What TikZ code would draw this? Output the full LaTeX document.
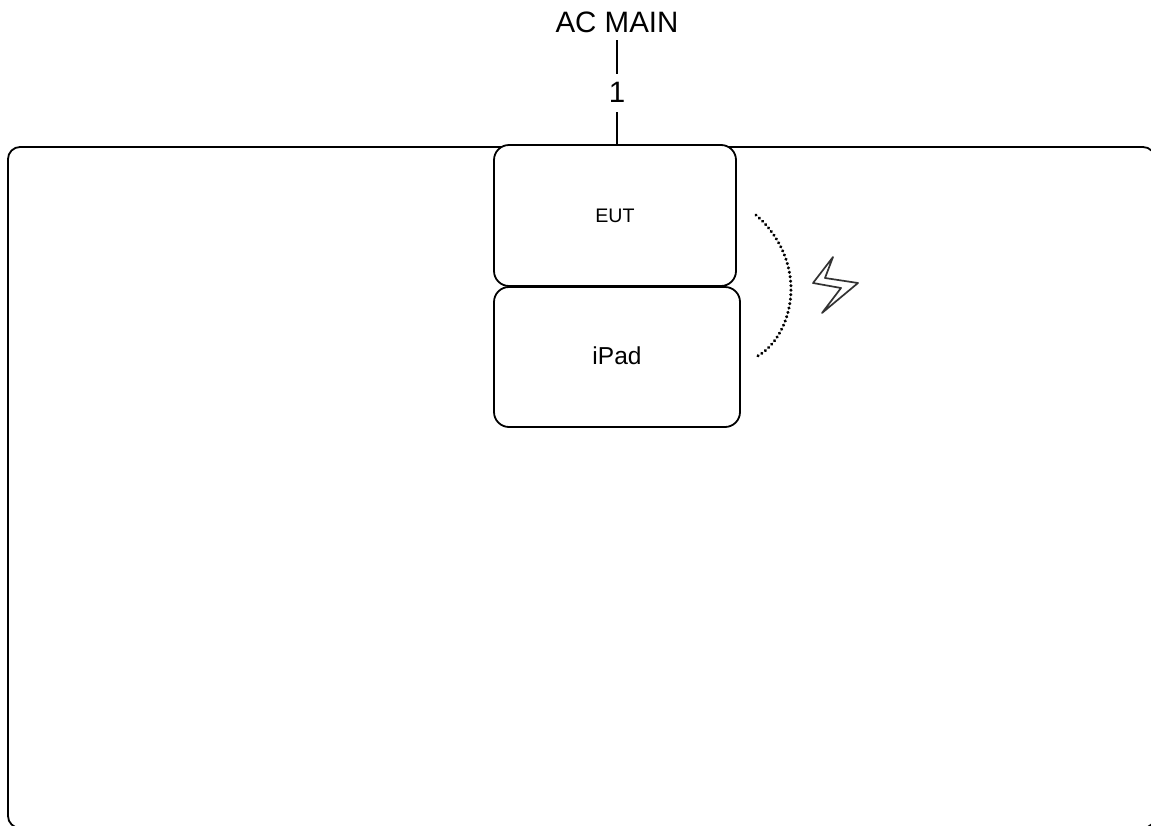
\documentclass[tikz,border=0pt]{standalone}
\usepackage{fontspec}
\setmainfont{Liberation Sans}
\tikzset{
  boxshape/.style={draw=black,line width=1.8pt,rounded corners=15pt,fill=white,inner sep=0pt,outer sep=0pt,anchor=north west,align=center},
  labeltext/.style={inner sep=0pt,outer sep=0pt,font=\fontsize{29.5}{30}\selectfont},
  wire/.style={line width=1.8pt,black}
}
\begin{document}
\begin{tikzpicture}[x=1pt,y=-1pt]
\useasboundingbox (0,0) rectangle (1151,825);
\clip (0,0) rectangle (1151,825);
\node[boxshape,rounded corners=12pt,minimum width=1147pt,minimum height=681pt] (outer) at (8,147) {};
\node[labeltext,text height=22pt,text depth=8pt] (ac) at (617,25) {AC MAIN};
\node[labeltext,text height=28pt,text depth=10pt] (one) at (617,93) {1};
\draw[wire] (ac.south) -- (one.north);
\draw[wire] (one.south) -- (one.south |- outer.north);
\node[boxshape,minimum width=246pt,minimum height=140pt,font=\fontsize{24.5}{26}\selectfont,text height=18pt,text depth=4pt] (ipad) at (494,287) {iPad};
\node[boxshape,minimum width=242pt,minimum height=141pt,font=\fontsize{19.6}{21}\selectfont] (eut) at (494,145) {EUT};
\coordinate (arcstart) at (756,215);
\coordinate (arcend) at (756,357);
\draw[black,line width=3.3pt,line cap=round,dash pattern=on 0.1pt off 4.4pt] (arcstart) .. controls (781,237) and (791,265) .. (791,289) .. controls (791,318) and (777,346) .. (arcend);
\draw[black!80,line width=1.7pt,line join=round] (833,257) -- (813,283) -- (841,288) -- (822,313) -- (858,283) -- (825,278) -- cycle;
\end{tikzpicture}
\end{document}
